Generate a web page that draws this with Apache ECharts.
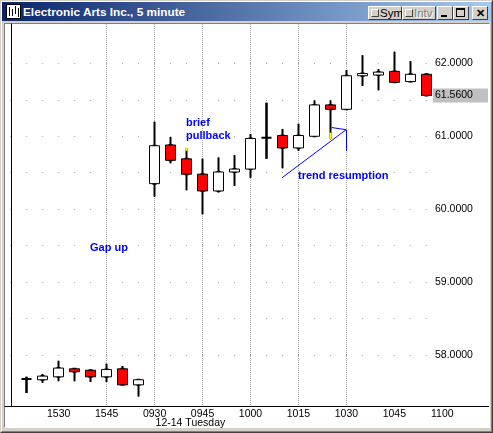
<!DOCTYPE html>
<html>
<head>
<meta charset="utf-8">
<title>Electronic Arts Inc., 5 minute</title>
<script src="https://cdn.jsdelivr.net/npm/echarts@6/dist/echarts.min.js"></script>
<style>
html,body{margin:0;padding:0;background:#d4d0c8;}
.win{position:relative;width:493px;height:433px;background:#d4d0c8;overflow:hidden;font-family:"Liberation Sans",Arial,sans-serif;}
.edge{position:absolute;left:0;top:0;width:493px;height:433px;box-sizing:border-box;border-top:1px solid #d4d0c8;border-left:1px solid #d4d0c8;border-right:1px solid #404040;border-bottom:1px solid #404040;}
.edge2{position:absolute;left:1px;top:1px;width:491px;height:431px;box-sizing:border-box;border-top:1px solid #fff;border-left:1px solid #fff;border-right:1px solid #808080;border-bottom:1px solid #808080;}
.title{position:absolute;left:2px;top:2px;width:489px;height:19px;background:linear-gradient(to right,#0a246a,#a6caf0);}
.title .cap{position:absolute;left:21px;top:0;line-height:20px;color:#fff;font-weight:bold;font-size:11.8px;white-space:nowrap;}
.icon{position:absolute;left:4px;top:2px;width:15px;height:15px;box-sizing:border-box;background:#fff;border:1px solid #000;}
.icon i{position:absolute;background:#000;width:1px;}
.btn{position:absolute;top:4px;height:14px;box-sizing:border-box;background:#d4d0c8;border:1px solid;border-color:#fff #404040 #404040 #fff;font-size:11.5px;line-height:12px;color:#000;}
.btn .chk{position:absolute;left:2px;top:2px;width:8px;height:8px;box-sizing:border-box;border:1px solid;border-color:#fff #404040 #404040 #fff;background:#d4d0c8;}
.btn .lbl{position:absolute;left:11px;top:0;}
.btn.off .lbl{color:#808080;text-shadow:1px 1px 0 #fff;}
.client{position:absolute;left:4px;top:23px;width:486px;height:405px;box-sizing:border-box;background:#fff;border-top:1px solid #808080;border-left:1px solid #808080;border-right:1px solid #fff;border-bottom:1px solid #fff;}
#chart{position:absolute;left:0;top:0;width:493px;height:433px;}
</style>
</head>
<body>
<div class="win">
  <div class="edge"></div>
  <div class="edge2"></div>
  <div class="title">
    <div class="icon"><i style="left:2px;top:2px;height:9px"></i><i style="left:5px;top:4px;height:7px"></i><i style="left:8px;top:1px;height:8px"></i><i style="left:11px;top:3px;height:9px"></i></div>
    <div class="cap">Electronic Arts Inc., 5 minute</div>
    <div class="btn" style="left:366px;width:34px"><div class="chk"></div><div class="lbl">Sym</div></div>
    <div class="btn off" style="left:400px;width:34px"><div class="chk"></div><div class="lbl">Intv</div></div>
    <div class="btn" style="left:435px;width:16px"><div style="position:absolute;left:3px;top:8px;width:6px;height:2px;background:#000"></div></div>
    <div class="btn" style="left:451px;width:16px"><div style="position:absolute;left:2px;top:1px;width:9px;height:9px;box-sizing:border-box;border:1px solid #000;border-top-width:2px"></div></div>
    <div class="btn" style="left:470px;width:16px;text-align:center;font-weight:bold;font-size:11px;line-height:12px">&#x2715;</div>
  </div>
  <div class="client"></div>
  <div id="chart"></div>
</div>
<script>
// 5-minute slots on the time axis (prior afternoon, then the gap-up session)
var slots = ['1515','1520','1525','1530','1535','1540','1545','1550','1555',
  '0930','0935','0940','0945','0950','0955','1000','1005','1010','1015','1020',
  '1025','1030','1035','1040','1045','1050','1055','1100'];

// candles
var times  = ['1520','1525','1530','1535','1540','1545','1550','1555',
  '0930','0935','0940','0945','0950','0955','1000','1005','1010','1015','1020',
  '1025','1030','1035','1040','1045','1050','1055'];
var opens  = [57.67, 57.66, 57.70, 57.81, 57.79, 57.70, 57.81, 57.59,
  60.35, 60.88, 60.69, 60.48, 60.25, 60.51, 60.55, 60.98, 61.01, 60.84, 61.00,
  61.43, 61.37, 61.83, 61.84, 61.89, 61.75, 61.85];
var closes = [57.67, 57.71, 57.82, 57.77, 57.70, 57.80, 57.59, 57.66,
  60.87, 60.67, 60.48, 60.25, 60.51, 60.55, 60.97, 60.98, 60.84, 61.01, 61.43,
  61.37, 61.83, 61.86, 61.88, 61.74, 61.85, 61.56];
var lows   = [57.48, 57.62, 57.64, 57.64, 57.63, 57.63, 57.59, 57.43,
  60.17, 60.63, 60.26, 59.93, 60.23, 60.32, 60.43, 60.69, 60.56, 60.80, 60.99,
  60.96, 61.37, 61.69, 61.63, 61.74, 61.74, 61.55];
var highs  = [57.70, 57.74, 57.92, 57.81, 57.79, 57.88, 57.85, 57.66,
  61.20, 60.99, 60.84, 60.69, 60.71, 60.74, 61.03, 61.46, 61.10, 61.17, 61.49,
  61.49, 61.91, 62.11, 61.92, 62.16, 62.03, 61.85];

// yellow highlights on two wicks: [time, from, to]
var highlights = [['0940', 60.80, 60.84], ['1025', 60.96, 61.05]];

var tickLabels  = ['1530','1545','0930','0945','1000','1015','1030','1045','1100'];
var gridLevels  = [57.5, 58, 58.5, 59, 59.5, 60, 60.5, 61, 61.5, 62, 62.5];
var priceLabels = [58, 59, 60, 61, 62];
var sessionOpen = '0930';
var sessionDate = '12-14 Tuesday';
var lastPrice = 61.56;

var FONT = '"Liberation Sans", Arial, sans-serif';
var xMin = -0.36, xMax = 26.42;
var yMin = 57.3, yMax = 62.54;

function slotOf(t){ return slots.indexOf(t); }

var tickSlots = tickLabels.map(slotOf).filter(function(v){ return v <= xMax; });

var candleData = times.map(function(t, i){
  var item = {value: [slotOf(t), opens[i], closes[i], lows[i], highs[i]]};
  if (opens[i] === closes[i]) item.itemStyle = {borderWidth: 2};
  return item;
});
var wickData = times.map(function(t, i){
  return [slotOf(t), opens[i], closes[i], lows[i], highs[i]];
});
var markData = highlights.map(function(h){
  return [slotOf(h[0]), h[1], h[2], h[1], h[2]];
});

var chart = echarts.init(document.getElementById('chart'));

chart.setOption({
  animation: false,
  backgroundColor: 'transparent',
  grid: {left: 5, top: 24, right: 60, bottom: 27},
  xAxis: [{
    type: 'value',
    min: xMin,
    max: xMax,
    axisLine: {lineStyle: {color: '#000', width: 1}},
    axisTick: {show: false, customValues: tickSlots},
    axisLabel: {
      customValues: tickSlots,
      formatter: function(v){ return slots[Math.round(v)]; },
      color: '#000', fontFamily: FONT, fontSize: 10.5, margin: 3
    },
    splitLine: {show: true, showMinLine: false, showMaxLine: false,
      lineStyle: {color: '#a8a8a8', width: 1, type: [1, 1]}}
  }, {
    // day separator at the session open
    type: 'value',
    min: xMin,
    max: xMax,
    position: 'bottom',
    axisLine: {show: false},
    axisTick: {show: false, customValues: [slotOf(sessionOpen)]},
    axisLabel: {show: false},
    splitLine: {show: true, showMinLine: false, showMaxLine: false,
      lineStyle: {color: '#c0c0c0', width: 1, type: 'solid'}}
  }],
  yAxis: {
    type: 'value',
    position: 'right',
    min: yMin,
    max: yMax,
    splitNumber: 10,
    axisLine: {show: true, lineStyle: {color: '#000', width: 1}},
    axisTick: {show: false, customValues: gridLevels},
    axisLabel: {
      customValues: priceLabels,
      formatter: function(v){ return v.toFixed(4); },
      color: '#000', fontFamily: FONT, fontSize: 10.5, margin: 2
    },
    splitLine: {show: true, showMinLine: false, showMaxLine: false,
      lineStyle: {color: '#a0a0a0', width: 1, type: [1, 14.98], dashOffset: 10.68}}
  },
  series: [
    {
      name: 'wick',
      type: 'candlestick',
      silent: true,
      barWidth: 2,
      encode: {x: 0, y: [1, 2, 3, 4]},
      itemStyle: {color: '#000', color0: '#000', borderColor: '#000', borderColor0: '#000', borderColorDoji: '#000', borderWidth: 2},
      data: wickData,
      markLine: {
        silent: true,
        symbol: ['none', 'none'],
        label: {show: false},
        data: [
          [{coord: [16.97, 60.43]}, {coord: [20.98, 61.09]}],
          [{coord: [20.98, 61.09]}, {coord: [20.08, 61.12]}],
          [{coord: [20.98, 61.09]}, {coord: [20.98, 60.80]}]
        ],
        lineStyle: {color: '#0000ff', type: 'solid', width: 1}
      }
    },
    {
      name: 'EA',
      type: 'candlestick',
      silent: true,
      barWidth: 10,
      encode: {x: 0, y: [1, 2, 3, 4]},
      itemStyle: {color: '#ffffff', color0: '#ff0000', borderColor: '#000', borderColor0: '#000', borderColorDoji: '#000', borderWidth: 1},
      data: candleData,
      markLine: {
        silent: true,
        symbol: ['none', 'none'],
        data: [{yAxis: lastPrice}],
        lineStyle: {color: 'rgba(0,0,0,0)', width: 0},
        label: {
          show: true, position: 'end', distance: 0,
          formatter: lastPrice.toFixed(4),
          backgroundColor: '#c0c0c0', color: '#000',
          fontFamily: FONT, fontSize: 10.5,
          padding: [2, 2, 1, 2], width: 51, align: 'left'
        }
      }
    },
    {
      name: 'highlight',
      type: 'candlestick',
      silent: true,
      barWidth: 2,
      encode: {x: 0, y: [1, 2, 3, 4]},
      itemStyle: {color: '#ffff00', color0: '#ffff00', borderColor: '#ffff00', borderColor0: '#ffff00', borderWidth: 0},
      data: markData
    }
  ]
});

// texts placed off the axis range, positioned through the axis scales
var yBase = chart.convertToPixel({yAxisIndex: 0}, yMin);
var xRight = chart.convertToPixel({xAxisIndex: 0}, xMax);
var xEnd = chart.convertToPixel({xAxisIndex: 0}, slotOf('1100'));
var xOpen = chart.convertToPixel({xAxisIndex: 0}, slotOf(sessionOpen));
var noteStyle = {fill: '#0000ff', font: 'bold 11px ' + FONT, verticalAlign: 'middle'};

chart.setOption({
  graphic: [
    {type: 'line', silent: true, shape: {x1: xRight, y1: yBase + 0.5, x2: 489, y2: yBase + 0.5}, style: {stroke: '#000', lineWidth: 1}},
    {type: 'text', silent: true, x: xEnd, y: yBase + 8, style: {text: '1100', fill: '#000', font: '10.5px ' + FONT, align: 'center', verticalAlign: 'middle'}},
    {type: 'text', silent: true, x: xOpen + 1, y: yBase + 17, style: {text: sessionDate, fill: '#000', font: '10.5px ' + FONT, align: 'left', verticalAlign: 'middle'}},
    {type: 'text', silent: true, x: 90, y: 248, style: Object.assign({text: 'Gap up'}, noteStyle)},
    {type: 'text', silent: true, x: 186, y: 123, style: Object.assign({text: 'brief'}, noteStyle)},
    {type: 'text', silent: true, x: 186, y: 136, style: Object.assign({text: 'pullback'}, noteStyle)},
    {type: 'text', silent: true, x: 298, y: 176, style: Object.assign({text: 'trend resumption'}, noteStyle)}
  ]
});
</script>
</body>
</html>
